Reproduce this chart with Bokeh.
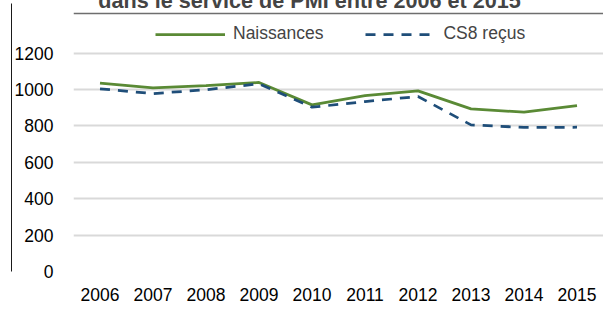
from bokeh.plotting import figure
from bokeh.models import (FactorRange, Range1d, Legend, LegendItem, Label, Grid,
                          LinearAxis, FixedTicker)
from bokeh.embed import file_html
from bokeh.resources import INLINE

years = ["2006", "2007", "2008", "2009", "2010", "2011", "2012", "2013", "2014", "2015"]
naissances = [1035, 1010, 1022, 1039, 916, 967, 993, 894, 876, 912]
cs8_recus = [1004, 978, 999, 1032, 903, 934, 962, 806, 792, 793]
y_ticks = [0, 200, 400, 600, 800, 1000, 1200]
title_text = "dans le service de PMI entre 2006 et 2015"
series_names = ["Naissances", "CS8 reçus"]

FONT = "Liberation Sans"
GREEN = "#5A8A35"
BLUE = "#1F4E79"

# layout (pixels of the canvas)
W, H = 611, 316
FRAME_LEFT, FRAME_BOTTOM_PAD = 81, 37
frame_h = H - FRAME_BOTTOM_PAD           # frame spans the canvas top to here
px_1200 = 60.7                           # canvas row of the 1200 gridline
y_top = 1200 * frame_h / (frame_h - px_1200)
def row_to_value(row):
    return (frame_h - row) / frame_h * y_top

p = figure(width=W, height=H, output_backend="svg", toolbar_location=None,
           x_range=FactorRange(*years, range_padding=0),
           y_range=Range1d(0, y_top),
           min_border_left=FRAME_LEFT, min_border_right=0, min_border_top=0,
           min_border_bottom=FRAME_BOTTOM_PAD,
           margin=(-8, -8, -8, -8))
p.outline_line_color = None
p.background_fill_color = "white"
p.border_fill_color = "white"

p.xgrid.grid_line_color = None
p.ygrid.grid_line_color = "#D9D9D9"
p.ygrid.grid_line_width = 2
p.yaxis.ticker = FixedTicker(ticks=y_ticks)

for ax in (p.xaxis[0], p.yaxis[0]):
    ax.axis_line_color = None
    ax.major_tick_line_color = None
    ax.minor_tick_line_color = None
    ax.major_tick_out = 0
    ax.major_tick_in = 0
    ax.major_label_text_font = FONT
    ax.major_label_text_font_size = "17.5px"
    ax.major_label_text_color = "#000000"
p.yaxis.major_label_standoff = 20
p.xaxis.major_label_standoff = 16

# chart-area border: left edge (outer axis line) and top edge (extra grid line)
border_axis = LinearAxis(ticker=FixedTicker(ticks=[]), bounds=(0, row_to_value(11.0)),
                         axis_line_color="#1a1a1a", axis_line_width=1,
                         major_tick_line_color=None, minor_tick_line_color=None,
                         major_label_text_font_size="0px")
p.add_layout(border_axis, "left")
top_edge = Grid(dimension=1, ticker=FixedTicker(ticks=[row_to_value(20.5)]),
                grid_line_color="#6e6e6e", grid_line_width=1.5)
p.add_layout(top_edge)

r1 = p.line(years, naissances, line_color=GREEN, line_width=2.75)
r2 = p.line(years, cs8_recus, line_color=BLUE, line_width=2.75, line_dash="10 8")

legend = Legend(items=[LegendItem(label=series_names[0], renderers=[r1]),
                       LegendItem(label=series_names[1], renderers=[r2])],
                orientation="horizontal", location=(82, frame_h - 32 - 20),
                glyph_width=70, glyph_height=20, label_height=20,
                label_standoff=8, spacing=42, padding=0, margin=0,
                label_text_font=FONT, label_text_font_size="17.5px",
                border_line_color=None, background_fill_alpha=0)
p.add_layout(legend, "center")

title = Label(x=(317 - FRAME_LEFT) / ((W - FRAME_LEFT) / len(years)), y=row_to_value(7.5),
              text=title_text, text_font=FONT, text_font_size="21.6px",
              text_font_style="bold", text_align="center", text_baseline="alphabetic")
p.add_layout(title)

open("out.html", "w").write(file_html(p, INLINE))
